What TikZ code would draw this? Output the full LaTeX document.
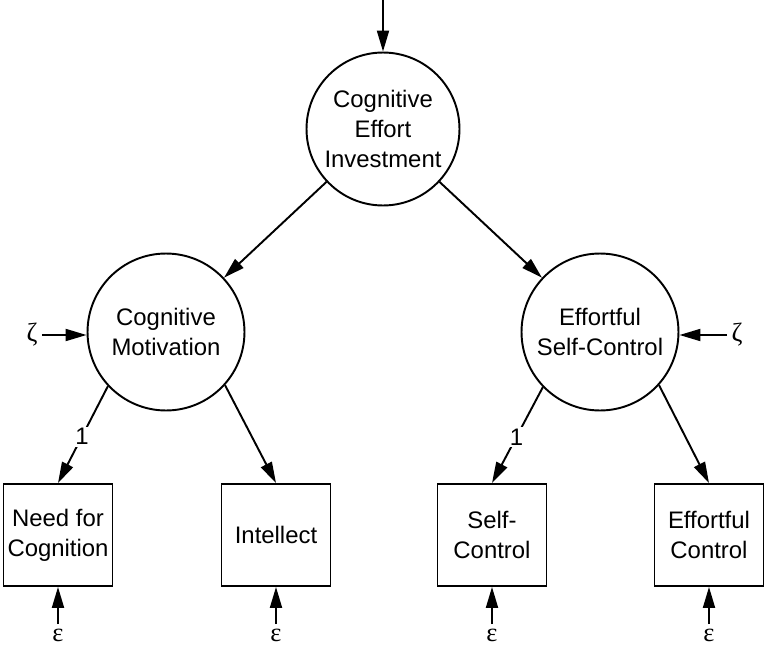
\documentclass[tikz,border=0pt]{standalone}
\usepackage{fontspec}
\setmainfont{Liberation Sans}
\newfontfamily\greekfont{Liberation Serif}
\usetikzlibrary{arrows.meta}

\tikzset{
  latent/.style={draw, circle, align=center, inner sep=0pt, minimum size=3.14cm},
  manifest/.style={draw, rectangle, align=center, inner sep=0pt, minimum width=2.18cm, minimum height=2.04cm},
  err/.style={inner sep=2pt, font=\greekfont\fontsize{15}{17}\selectfont}
}

\begin{document}
\begin{tikzpicture}[x=0.02cm, y=-0.02cm, line width=1.1pt,
    >={Triangle[length=0.42cm, width=0.24cm]},
    font=\fontsize{13.6}{17}\selectfont]
\useasboundingbox (0,0) rectangle (768,646);

\node[latent, minimum size=3.06cm] (cei) at (383,129) {Cognitive\\Effort\\Investment};
\node[latent] (cm) at (166,332) {Cognitive\\Motivation};
\node[latent] (esc) at (600,332) {Effortful\\Self-Control};

\node[manifest] (nfc) at (58,535) {Need for\\Cognition};
\node[manifest] (int) at (276,535) {Intellect};
\node[manifest] (sc) at (492,535) {Self-\\Control};
\node[manifest] (ec) at (709,535) {Effortful\\Control};

\coordinate (top) at (383,0);
\draw[->] (top) -- (cei);
\draw[->] (cei) -- (cm);
\draw[->] (cei) -- (esc);

\node[err] (zl) at (32,335) {ζ};
\node[err] (zr) at (737,335) {ζ};
\draw[->] (zl) -- (zl -| cm.west);
\draw[->] (zr) -- (zr -| esc.east);

\draw[->] (cm.223) -- node[fill=white, inner sep=1pt, pos=0.52] {1} (nfc.north);
\draw[->] (cm.-42) -- (int.north);
\draw[->] (esc.224) -- node[fill=white, inner sep=1pt, pos=0.52] {1} (sc.north);
\draw[->] (esc.-42) -- (ec.north);

\foreach \b in {nfc,int,sc,ec} {
    \path (\b.south) ++(0,48) node[err] (eps\b) {ε};
    \draw[->] (eps\b) -- (\b);
}
\end{tikzpicture}
\end{document}
